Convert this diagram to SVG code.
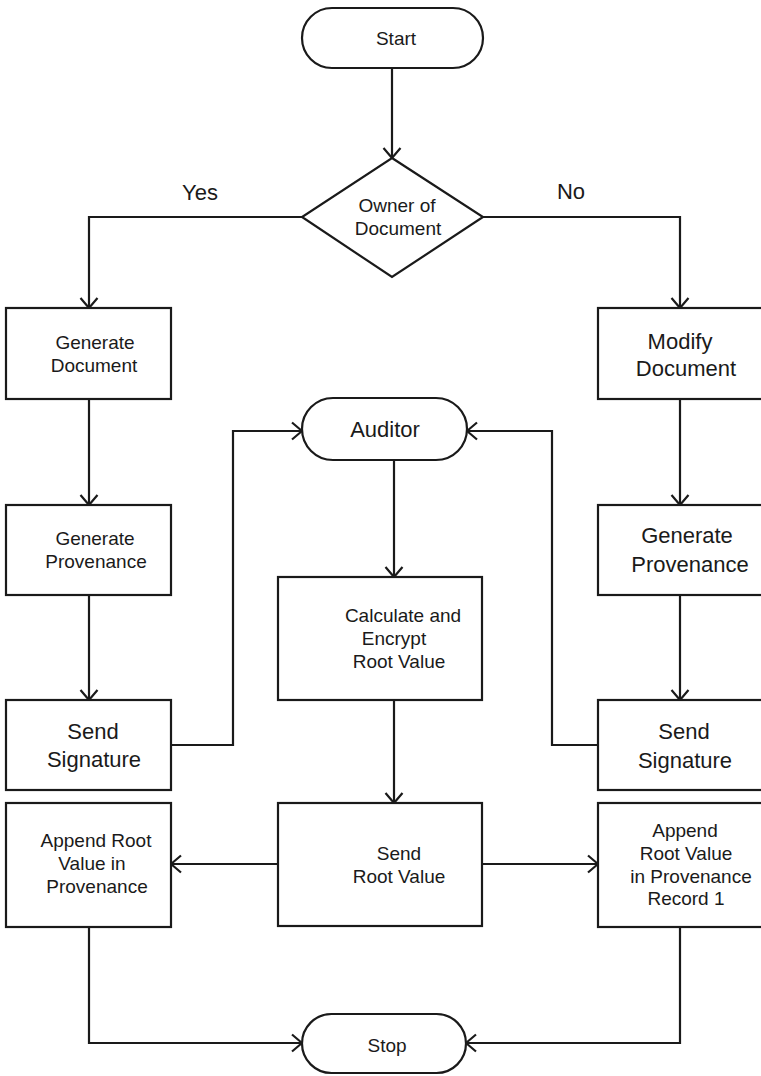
<svg xmlns="http://www.w3.org/2000/svg" width="761" height="1076" viewBox="0 0 761 1076">
<style>
.s{fill:#fff;stroke:#1a1a1a;stroke-width:2.2}
.c{fill:none;stroke:#1a1a1a;stroke-width:2.2;marker-end:url(#a)}
text{font-family:"Liberation Sans",Arial,sans-serif;fill:#1a1a1a;text-anchor:middle}
.m{font-size:19px}
.l{font-size:22px}
</style>
<defs>
<marker id="a" viewBox="-1 -10 13 20" markerWidth="13" markerHeight="20" refX="11" refY="0" orient="auto" markerUnits="userSpaceOnUse">
<path d="M1,-8.5 L11,0 L1,8.5" fill="none" stroke="#1a1a1a" stroke-width="2.2"/>
</marker>
</defs>
<rect width="761" height="1076" fill="#fff"/>
<g id="connectors">
<path class="c" d="M392,68 V158"/>
<path class="c" d="M302,217 H89 V308"/>
<path class="c" d="M483,217 H680 V308"/>
<path class="c" d="M89,399 V505"/>
<path class="c" d="M89,595 V700"/>
<path class="c" d="M680,399 V505"/>
<path class="c" d="M680,595 V700"/>
<path class="c" d="M171,745 H233 V431 H302"/>
<path class="c" d="M598,745 H552 V431 H467"/>
<path class="c" d="M394,460 V577"/>
<path class="c" d="M394,700 V803"/>
<path class="c" d="M278,864 H171"/>
<path class="c" d="M482,864 H598"/>
<path class="c" d="M89,927 V1043 H302"/>
<path class="c" d="M680,927 V1043 H466"/>
<text class="l" x="200" y="200">Yes</text>
<text class="l" x="571" y="199">No</text>
</g>
<g id="start">
<rect class="s" x="302" y="8" width="181" height="60" rx="30"/>
<text class="m" x="396" y="45">Start</text>
</g>
<g id="owner">
<path class="s" d="M392,158 L483,217 L392,277 L302,217 Z"/>
<text class="m" x="397" y="212">Owner of</text>
<text class="m" x="398" y="235">Document</text>
</g>
<g id="gen-doc">
<rect class="s" x="6" y="308" width="165" height="91"/>
<text class="m" x="95" y="349">Generate</text>
<text class="m" x="94" y="372">Document</text>
</g>
<g id="modify-doc">
<rect class="s" x="598" y="308" width="172" height="91"/>
<text class="l" x="680" y="349">Modify</text>
<text class="l" x="686" y="376">Document</text>
</g>
<g id="gen-prov-left">
<rect class="s" x="6" y="505" width="165" height="90"/>
<text class="m" x="95" y="545">Generate</text>
<text class="m" x="96" y="568">Provenance</text>
</g>
<g id="gen-prov-right">
<rect class="s" x="598" y="505" width="172" height="90"/>
<text class="l" x="687" y="543">Generate</text>
<text class="l" x="690" y="572">Provenance</text>
</g>
<g id="send-sig-left">
<rect class="s" x="6" y="700" width="165" height="90"/>
<text class="l" x="93" y="739">Send</text>
<text class="l" x="94" y="767">Signature</text>
</g>
<g id="send-sig-right">
<rect class="s" x="598" y="700" width="172" height="90"/>
<text class="l" x="684" y="739">Send</text>
<text class="l" x="685" y="768">Signature</text>
</g>
<g id="auditor">
<rect class="s" x="302" y="398" width="165" height="62" rx="31"/>
<text class="l" x="385" y="437">Auditor</text>
</g>
<g id="calc">
<rect class="s" x="278" y="577" width="204" height="123"/>
<text class="m" x="403" y="622">Calculate and</text>
<text class="m" x="394" y="645">Encrypt</text>
<text class="m" x="399" y="668">Root Value</text>
</g>
<g id="send-root">
<rect class="s" x="278" y="803" width="204" height="123"/>
<text class="m" x="399" y="860">Send</text>
<text class="m" x="399" y="883">Root Value</text>
</g>
<g id="append-left">
<rect class="s" x="6" y="803" width="165" height="124"/>
<text class="m" x="96" y="847">Append Root</text>
<text class="m" x="92" y="870">Value in</text>
<text class="m" x="97" y="893">Provenance</text>
</g>
<g id="append-right">
<rect class="s" x="598" y="803" width="172" height="124"/>
<text class="m" x="685" y="837">Append</text>
<text class="m" x="686" y="860">Root Value</text>
<text class="m" x="691" y="883">in Provenance</text>
<text class="m" x="686" y="905">Record 1</text>
</g>
<g id="stop">
<rect class="s" x="302" y="1014" width="164" height="59" rx="29.5"/>
<text class="m" x="387" y="1052">Stop</text>
</g>
</svg>
